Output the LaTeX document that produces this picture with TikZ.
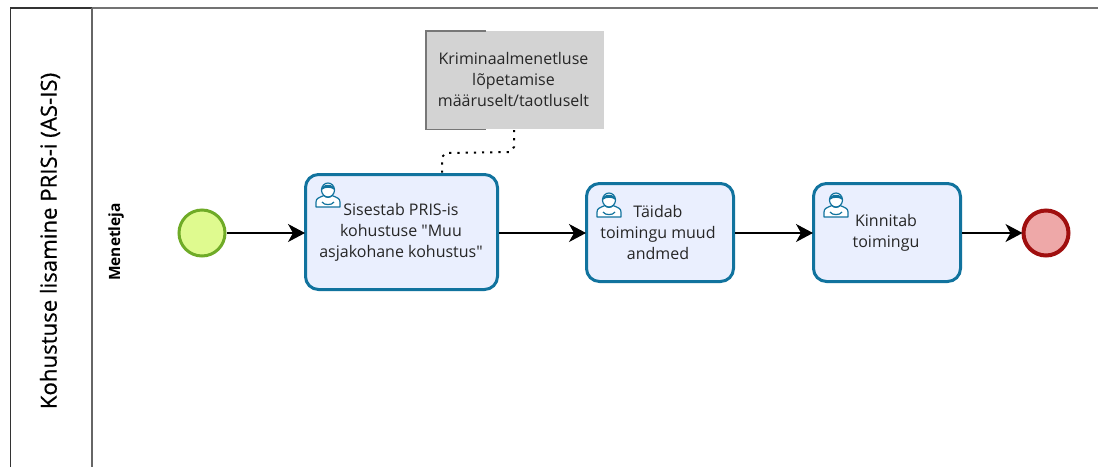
\documentclass[tikz,border=0pt]{standalone}
\usepackage{fontspec}
\setmainfont{Open Sans}[Ligatures=TeXOff]
\usetikzlibrary{arrows.meta}
\definecolor{taskfill}{HTML}{EAEFFE}
\definecolor{taskline}{HTML}{11739E}
\definecolor{startfill}{HTML}{DFFA8F}
\definecolor{startline}{HTML}{6FAB27}
\definecolor{endfill}{HTML}{EEA8A8}
\definecolor{endline}{HTML}{A00F0F}
\definecolor{notefill}{HTML}{D3D3D3}
\definecolor{noteline}{HTML}{777777}
\tikzset{
  x=1pt,y=-1pt,
  task/.style={draw=taskline,fill=taskfill,line width=3pt,rounded corners=13pt,inner sep=0pt,anchor=north west},
  tasklabel/.style={align=center,font=\fontsize{16}{21}\selectfont,text=black!85,inner sep=0pt},
  flow/.style={draw=black,line width=1.2pt,-{Stealth[length=17pt,width=18pt,inset=5pt]},shorten >=-1pt},
  assoc/.style={draw=black,line width=2pt,dash pattern=on 2.2pt off 6pt},
  person/.pic={
    \draw[taskline,line width=1.2pt,fill=white,line join=round]
      (0,24) -- (0,19) .. controls (0,15.5) and (3,14.5) .. (8,12.5)
      .. controls (10,15) and (14,15) .. (16,12.5)
      .. controls (21,14.5) and (24,15.5) .. (24,19) -- (24,24) -- cycle;
    \draw[taskline,line width=1.2pt] (6,19) .. controls (8,22.5) and (16,22.5) .. (18,19);
    \draw[taskline,line width=1.2pt,fill=white] (12,7) ellipse [x radius=6.5,y radius=7];
    \fill[taskline] (5.5,7) .. controls (5.2,0) and (18.8,0) .. (18.5,7)
      .. controls (15,4) and (9,4) .. (5.5,7) -- cycle;
  }
}
\begin{document}
\begin{tikzpicture}
\useasboundingbox (0,0) rectangle (1098,467);
\fill[white] (0,0) rectangle (1098,467);
% pool
\coordinate (poolBL) at (10.5,467);
\coordinate (poolTL) at (10.5,8);
\coordinate (poolTR) at (1098,8);
\coordinate (laneT) at (92,8);
\coordinate (laneB) at (92,467);
\draw[black!80,line width=1.2pt] (poolBL) -- (poolTL) -- (laneT);
\draw[black!55,line width=1.2pt] (laneT) -- (poolTR);
\draw[black!60,line width=1.2pt] (laneT) -- (laneB);
\node[rotate=90,inner sep=0pt,font=\fontsize{22.2}{25}\selectfont\addfontfeature{FakeBold=0.5},text=black] (pool) at (50,241) {Kohustuse lisamine PRIS-i (AS-IS)};
\node[rotate=90,inner sep=0pt,font=\fontsize{15.5}{18}\selectfont\bfseries,text=black] (lane) at (116,242) {Menetleja};
% events
\node[circle,draw=startline,fill=startfill,line width=3pt,minimum size=46pt,inner sep=0pt] (start) at (202,233) {};
\node[circle,draw=endline,fill=endfill,line width=4pt,minimum size=45pt,inner sep=0pt] (end) at (1046,233) {};
% tasks
\node[task,minimum width=192pt,minimum height=115pt] (t1) at (304,173) {};
\node[task,minimum width=147pt,minimum height=98pt] (t2) at (585,182) {};
\node[task,minimum width=147pt,minimum height=98pt] (t3) at (812,182) {};
\pic at (316,183) {person};
\pic at (597,193) {person};
\pic at (824,193) {person};
\node[tasklabel] (t1l) at (401,232) {Sisestab PRIS-is\\kohustuse "Muu\\asjakohane kohustus"};
\node[tasklabel] (t2l) at (658,232) {Täidab\\toimingu muud\\andmed};
\node[tasklabel] (t3l) at (886,233) {Kinnitab\\toimingu};
% annotation
\node[fill=notefill,minimum width=178pt,minimum height=98pt,inner sep=0pt,anchor=north west] (note) at (426,31) {};
\draw[noteline,line width=1.3pt] (486,31) -- (426,31) -- (426,129.5) -- (486,129.5);
\node[tasklabel,text=black!85] (notel) at (513.5,79) {Kriminaalmenetluse\\lõpetamise\\määruselt/taotluselt};
% connectors
\draw[flow] (start) -- (t1.west |- start);
\draw[flow] (t1.east |- start) -- (t2.west |- start);
\draw[flow] (t2.east |- start) -- (t3.west |- start);
\draw[flow] (t3.east |- start) -- (end);
\coordinate (a1) at (514,130);
\coordinate (a2) at (514,147);
\coordinate (a3) at (510,152);
\coordinate (a4) at (446,153);
\coordinate (a5) at (442,157);
\coordinate (a6) at (442,173);
\draw[assoc] (a1) -- (a2) -- (a3) -- (a4) -- (a5) -- (a6);
\end{tikzpicture}
\end{document}
